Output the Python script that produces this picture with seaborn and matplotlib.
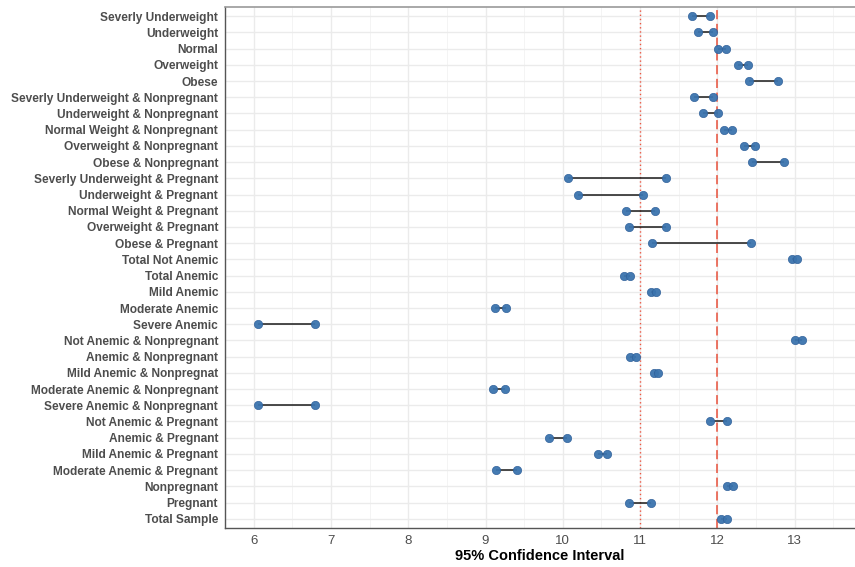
import numpy as np
import pandas as pd
import matplotlib
matplotlib.use("Agg")
import matplotlib.pyplot as plt
import seaborn as sns

# categorias (de arriba hacia abajo)
categories = [
  "Severly Underweight", "Underweight", "Normal", "Overweight", "Obese",
  "Severly Underweight & Nonpregnant", "Underweight & Nonpregnant",
  "Normal Weight & Nonpregnant", "Overweight & Nonpregnant", "Obese & Nonpregnant",
  "Severly Underweight & Pregnant", "Underweight & Pregnant",
  "Normal Weight & Pregnant", "Overweight & Pregnant", "Obese & Pregnant",
  "Total Not Anemic", "Total Anemic", "Mild Anemic", "Moderate Anemic", "Severe Anemic",
  "Not Anemic & Nonpregnant", "Anemic & Nonpregnant", "Mild Anemic & Nonpregnat",
  "Moderate Anemic & Nonpregnant", "Severe Anemic & Nonpregnant",
  "Not Anemic & Pregnant", "Anemic & Pregnant", "Mild Anemic & Pregnant",
  "Moderate Anemic & Pregnant", "Nonpregnant", "Pregnant", "Total Sample",
]

lower = [11.67, 11.75, 12.01, 12.26, 12.41,
         11.70, 11.82, 12.08, 12.35, 12.45,
         10.07, 10.19, 10.82, 10.86, 11.16,
         12.97, 10.79, 11.14, 9.12, 6.05,
         13.01, 10.87, 11.18, 9.10, 6.05,
         11.91, 9.82, 10.45, 9.13, 12.13, 10.86, 12.05]

upper = [11.91, 11.94, 12.11, 12.39, 12.79,
         11.94, 12.01, 12.19, 12.49, 12.86,
         11.34, 11.04, 11.19, 11.34, 12.44,
         13.03, 10.87, 11.20, 9.26, 6.80,
         13.09, 10.95, 11.23, 9.25, 6.80,
         12.13, 10.05, 10.57, 9.41, 12.20, 11.14, 12.13]

ref_dotted = 11
ref_dashed = 12

df = pd.DataFrame({"Category": categories, "Lower": lower, "Upper": upper})
long_df = df.melt(id_vars="Category", value_vars=["Lower", "Upper"],
                  var_name="Bound", value_name="CI")

sns.set_style("whitegrid")
plt.rcParams['font.family'] = ['Liberation Sans', 'DejaVu Sans']

fig = plt.figure(figsize=(8.55, 5.67), dpi=100)
ax = fig.add_axes([0.2632, 0.068, 0.7368, 0.9205])

# lineas de referencia
ax.axvline(ref_dotted, color='#ee5540', linestyle=(0, (1, 2)), linewidth=1.0, zorder=1)
ax.axvline(ref_dashed, color='#e8503a', linestyle=(0, (6, 3)), linewidth=1.1, zorder=1)

# segmentos del intervalo
ax.hlines(y=df["Category"], xmin=df["Lower"], xmax=df["Upper"],
          color='#1a1a1a', linewidth=1.1, zorder=2)

sns.scatterplot(data=long_df, x="CI", y="Category", ax=ax, color='#3b74ae',
                s=36, edgecolor='#30609a', linewidth=0.5, alpha=0.95,
                zorder=3, legend=False)

ax.set_xlim(5.63, 13.78)
ax.set_ylim(len(categories) - 0.4, -0.6)
ax.set_xticks(range(6, 14))
ax.set_xticks(np.arange(6.5, 14, 1), minor=True)

ax.grid(True, which='major', color='#ebebeb', linewidth=1.0)
ax.grid(True, which='minor', axis='x', color='#f3f3f3', linewidth=0.6)
ax.set_axisbelow(True)

for side in ['left', 'bottom']:
  ax.spines[side].set_color('#555555')
  ax.spines[side].set_linewidth(1.0)
ax.spines['top'].set_color('#9a9a9a')
ax.spines['top'].set_linewidth(1.2)
ax.spines['right'].set_visible(False)

ax.tick_params(axis='both', which='major', length=3, width=0.8, color='#555555')
ax.tick_params(axis='x', which='minor', length=0)
ax.tick_params(axis='y', labelsize=8.6, labelcolor='#4d4d4d', pad=2)
ax.tick_params(axis='x', labelsize=9.5, labelcolor='#4d4d4d', pad=2)
for lab in ax.get_yticklabels():
  lab.set_fontweight('bold')

ax.set_ylabel('')
ax.set_xlabel('95% Confidence Interval', fontsize=10.5, fontweight='bold',
              color='black', labelpad=1)

plt.savefig('out.png', dpi=100)
